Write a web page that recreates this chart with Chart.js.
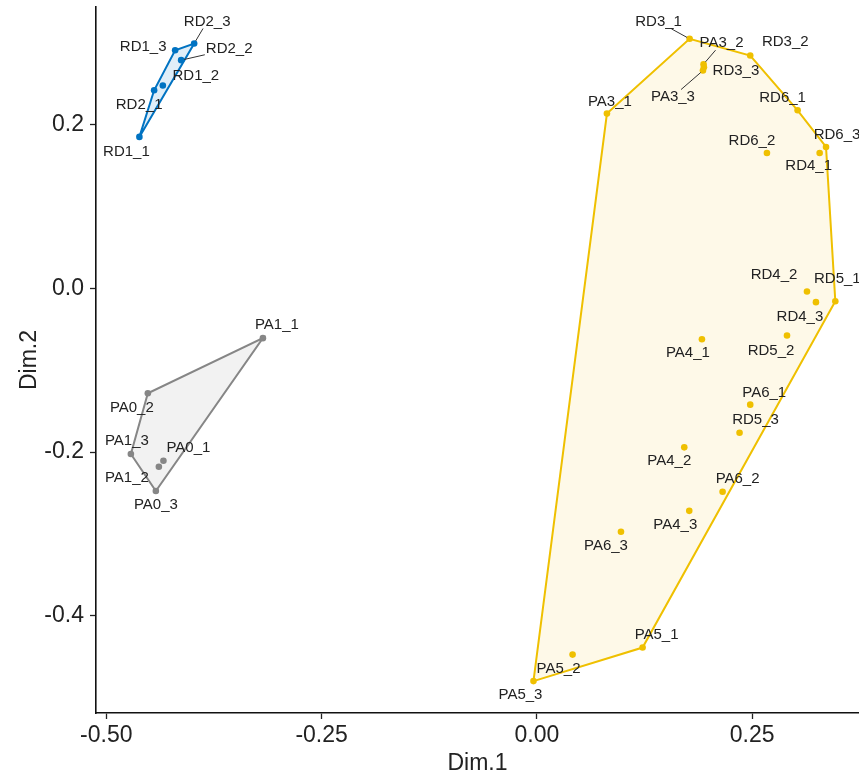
<!DOCTYPE html>
<html>
<head>
<meta charset="utf-8">
<script src="https://cdn.jsdelivr.net/npm/chart.js@4"></script>
<style>
  html, body { margin: 0; padding: 0; background: #fff; }
  #wrap { width: 859px; height: 777px; }
</style>
</head>
<body>
<div id="wrap"><canvas id="pcaChart"></canvas></div>
<script>
// sample coordinates (Dim.1, Dim.2)
const blueNames = ['RD1_1', 'RD1_2', 'RD1_3', 'RD2_1', 'RD2_2', 'RD2_3'];
const blueDim1 = [-0.4616, -0.4344, -0.4201, -0.4445, -0.4131, -0.3980];
const blueDim2 = [0.1852, 0.2480, 0.2912, 0.2422, 0.2790, 0.2994];

const greyNames = ['PA0_1', 'PA0_2', 'PA0_3', 'PA1_1', 'PA1_2', 'PA1_3'];
const greyDim1 = [-0.4337, -0.4518, -0.4425, -0.3182, -0.4390, -0.4715];
const greyDim2 = [-0.2106, -0.1282, -0.2477, -0.0608, -0.2180, -0.2024];

const yellowNames = ['PA3_1', 'PA3_2', 'PA3_3', 'PA4_1', 'PA4_2', 'PA4_3', 'PA5_1', 'PA5_2', 'PA5_3',
  'PA6_1', 'PA6_2', 'PA6_3', 'RD3_1', 'RD3_2', 'RD3_3', 'RD4_1', 'RD4_2', 'RD4_3',
  'RD5_1', 'RD5_2', 'RD5_3', 'RD6_1', 'RD6_2', 'RD6_3'];
const yellowDim1 = [0.0813, 0.1935, 0.1928, 0.1916, 0.1711, 0.1769, 0.1227, 0.0414, -0.0040,
  0.2477, 0.2156, 0.0976, 0.1773, 0.2477, 0.1939, 0.3283, 0.3136, 0.3240,
  0.3465, 0.2904, 0.2353, 0.3027, 0.2671, 0.3357];
const yellowDim2 = [0.2137, 0.2741, 0.2663, -0.0621, -0.1943, -0.2719, -0.4390, -0.4476, -0.4800,
  -0.1421, -0.2486, -0.2975, 0.3051, 0.2847, 0.2704, 0.1656, -0.0038, -0.0168,
  -0.0156, -0.0576, -0.1764, 0.2177, 0.1656, 0.1729];

const xTicks = [-0.50, -0.25, 0.00, 0.25];
const yTicks = [-0.4, -0.2, 0.0, 0.2];

// label placement (px from the point), third item = draw a leader line
const labelNudge = {
  RD1_1: [-13, 15], RD1_2: [33, -10], RD1_3: [-32, -3], RD2_1: [-15, 15], RD2_2: [48, -11, 1], RD2_3: [13, -22, 1],
  PA0_1: [25, -13], PA0_2: [-16, 15], PA0_3: [0, 14], PA1_1: [14, -13], PA1_2: [-32, 11], PA1_3: [-4, -13],
  PA3_1: [3, -12], PA3_2: [18, -21, 1], PA3_3: [-30, 26, 1], PA4_1: [-14, 14], PA4_2: [-15, 13], PA4_3: [-14, 14],
  PA5_1: [14, -13], PA5_2: [-14, 14], PA5_3: [-13, 14], PA6_1: [14, -12], PA6_2: [15, -13], PA6_3: [-15, 14],
  RD3_1: [-31, -17, 1], RD3_2: [35, -14], RD3_3: [32, 4], RD4_1: [-11, 13], RD4_2: [-33, -17], RD4_3: [-16, 15],
  RD5_1: [2, -22], RD5_2: [-16, 15], RD5_3: [16, -13], RD6_1: [-15, -12], RD6_2: [-15, -12], RD6_3: [11, -12]
};

function toPoints(names, xs, ys) {
  return names.map((n, i) => ({x: xs[i], y: ys[i], name: n}));
}

// convex hull (monotone chain), closed by repeating the first point
function hull(pts) {
  const p = pts.slice().sort((a, b) => a.x - b.x || a.y - b.y);
  const cross = (o, a, b) => (a.x - o.x) * (b.y - o.y) - (a.y - o.y) * (b.x - o.x);
  const lower = [], upper = [];
  for (const q of p) {
    while (lower.length >= 2 && cross(lower[lower.length - 2], lower[lower.length - 1], q) <= 0) lower.pop();
    lower.push(q);
  }
  for (let i = p.length - 1; i >= 0; i--) {
    const q = p[i];
    while (upper.length >= 2 && cross(upper[upper.length - 2], upper[upper.length - 1], q) <= 0) upper.pop();
    upper.push(q);
  }
  upper.pop(); lower.pop();
  const h = lower.concat(upper);
  h.push(h[0]);
  return h.map(q => ({x: q.x, y: q.y}));
}

const groups = [
  {pts: toPoints(blueNames, blueDim1, blueDim2), color: '#0073C2', fill: 'rgba(0,115,194,0.12)'},
  {pts: toPoints(greyNames, greyDim1, greyDim2), color: '#868686', fill: 'rgba(134,134,134,0.11)'},
  {pts: toPoints(yellowNames, yellowDim1, yellowDim2), color: '#EFC000', fill: 'rgba(239,192,0,0.09)'}
];

const datasets = [];
groups.forEach(g => {
  datasets.push({
    type: 'scatter',
    data: g.pts,
    backgroundColor: g.color,
    borderColor: g.color,
    pointRadius: 3.3,
    pointHoverRadius: 3.3,
    borderWidth: 0,
    order: 1,
    isPoints: true
  });
  datasets.push({
    type: 'line',
    data: hull(g.pts),
    borderColor: g.color,
    backgroundColor: g.fill,
    borderWidth: 2,
    pointRadius: 0,
    tension: 0,
    fill: 'shape',
    order: 2
  });
});

const pointLabels = {
  id: 'pointLabels',
  afterDatasetsDraw(chart) {
    const ctx = chart.ctx;
    ctx.save();
    ctx.font = '15px "Liberation Sans", Arial, sans-serif';
    ctx.textAlign = 'center';
    ctx.textBaseline = 'middle';
    chart.data.datasets.forEach((ds, di) => {
      if (!ds.isPoints) return;
      const meta = chart.getDatasetMeta(di);
      meta.data.forEach((el, i) => {
        const name = ds.data[i].name;
        const nudge = labelNudge[name] || [0, -12];
        const lx = el.x + nudge[0], ly = el.y + nudge[1];
        if (nudge[2]) {
          const w = ctx.measureText(name).width / 2 + 1, h = 7;
          const dx = lx - el.x, dy = ly - el.y;
          const t = Math.min(dx ? w / Math.abs(dx) : 1, dy ? h / Math.abs(dy) : 1);
          const len = Math.hypot(dx, dy);
          ctx.strokeStyle = '#333';
          ctx.lineWidth = 1;
          ctx.beginPath();
          ctx.moveTo(el.x + dx / len * 3, el.y + dy / len * 3);
          ctx.lineTo(lx - dx * t, ly - dy * t);
          ctx.stroke();
        }
        ctx.fillStyle = '#222';
        ctx.fillText(name, lx, ly);
      });
    });
    ctx.restore();
  }
};

const axisFont = {family: '"Liberation Sans", Arial, sans-serif', size: 23};

function noPad(s) {
  s.paddingTop = 0; s.paddingBottom = 0; s.paddingLeft = 0; s.paddingRight = 0;
}

new Chart(document.getElementById('pcaChart'), {
  type: 'scatter',
  data: {datasets: datasets},
  plugins: [pointLabels],
  options: {
    responsive: true,
    maintainAspectRatio: false,
    animation: false,
    layout: {autoPadding: false, padding: {top: 7, right: 0, left: 0, bottom: 0}},
    plugins: {legend: {display: false}, tooltip: {enabled: false}},
    scales: {
      x: {
        type: 'linear',
        min: -0.512,
        max: 0.374,
        afterBuildTicks: s => { s.ticks = xTicks.map(v => ({value: v})); },
        afterFit: s => { s.height = 64; noPad(s); },
        grid: {drawOnChartArea: false, tickLength: 6, tickColor: '#222', tickWidth: 1.3},
        border: {color: '#111', width: 1.6},
        ticks: {color: '#222', font: axisFont, padding: 3, maxRotation: 0,
          callback: v => v.toFixed(2)},
        title: {display: true, text: 'Dim.1', color: '#222', font: axisFont, padding: {top: 0, bottom: 0}}
      },
      y: {
        type: 'linear',
        min: -0.519,
        max: 0.344,
        afterBuildTicks: s => { s.ticks = yTicks.map(v => ({value: v})); },
        afterFit: s => { s.width = 96; noPad(s); },
        grid: {drawOnChartArea: false, tickLength: 6, tickColor: '#222', tickWidth: 1.3},
        border: {color: '#111', width: 1.6},
        ticks: {color: '#222', font: axisFont, padding: 6,
          callback: v => v.toFixed(1)},
        title: {display: true, text: 'Dim.2', color: '#222', font: axisFont, padding: {top: 16, bottom: 0}}
      }
    }
  }
});
</script>
</body>
</html>
